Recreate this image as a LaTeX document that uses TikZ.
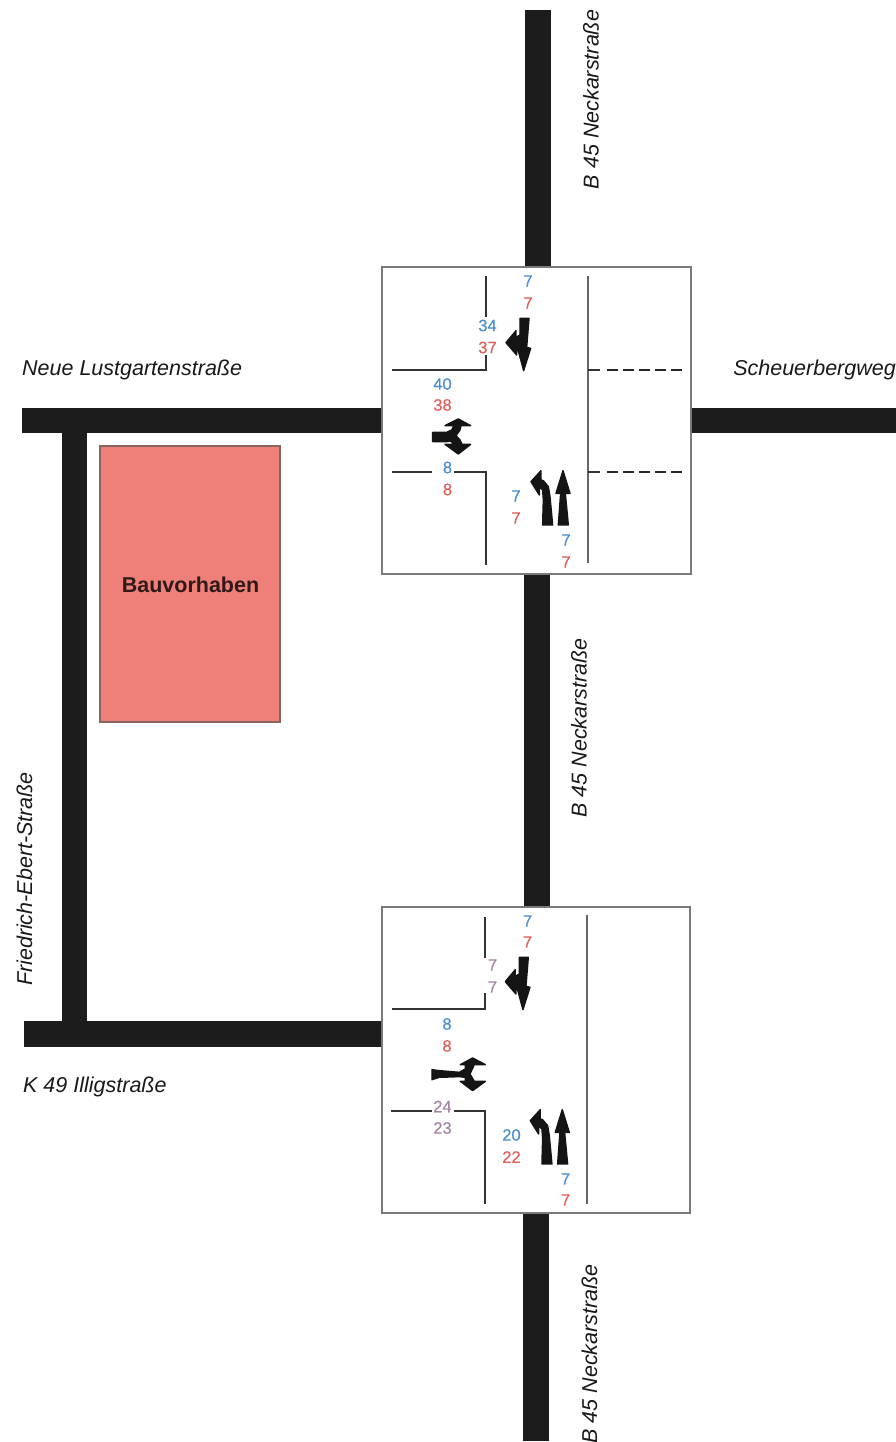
\documentclass[tikz,border=0pt]{standalone}
\usepackage{fontspec}
\setmainfont{Liberation Sans}
\definecolor{nblue}{HTML}{4A90D2}
\definecolor{nred}{HTML}{E2605C}
\definecolor{npurple}{HTML}{A585A5}
\definecolor{road}{HTML}{1C1C1C}
\definecolor{boxline}{HTML}{7A7A7A}
\definecolor{lotfill}{HTML}{EF8079}
\definecolor{lotline}{HTML}{8A6560}
\tikzset{
  x=1pt,y=-1pt,
  roadfill/.style={fill=road,draw=none},
  junction/.style={draw=boxline,line width=2.4pt,fill=white},
  kerb/.style={draw=black!80,line width=2pt},
  centre/.style={draw=black!60,line width=2.4pt},
  dashline/.style={draw=black!85,line width=2pt,dash pattern=on 11pt off 5pt},
  count/.style={font=\fontsize{16.5}{16}\selectfont\addfontfeature{FakeBold=0.4},inner sep=0pt,anchor=center},
  cb/.style={count,text=nblue},
  cr/.style={count,text=nred},
  cp/.style={count,text=npurple},
  street/.style={font=\fontsize{21.5}{22}\selectfont\itshape,text=black!90,inner sep=0pt},
  zoomed/.style={x=0.3333pt,y=-0.3333pt},
  arrowfill/.style={fill=black!92,draw=black!92,line width=1.4pt,line join=round},
  pics/southlanes/.style={code={
    \filldraw[arrowfill] (420,175)--(447,175)--(443,225)--(440,262)--(452,265)--(431,332)--(413,265)--(410,265)--(410,285)--(378,248)--(408,212)--(408,232)--(420,225)--cycle;
  }},
  pics/northlanes/.style={code={
    \filldraw[arrowfill] (535,795)--(565,795)--(556,700)--(570,700)--(549,632)--(528,700)--(542,700)--cycle;
    \filldraw[arrowfill] (488,795)--(518,795)--(510,710)--(505,680)--(490,662)--(483,660)--(483,632)--(453,665)--(478,705)--(478,680)--(488,690)--(490,720)--cycle;
  }},
}
\begin{document}
\begin{tikzpicture}
\useasboundingbox (0,0) rectangle (896,1442);
% roads
\fill[roadfill] (525,10) rectangle (551,268);
\fill[roadfill] (22,408) rectangle (383,433);
\fill[roadfill] (690,408) rectangle (896,433);
\fill[roadfill] (524,573) rectangle (550,908);
\fill[roadfill] (62,420) rectangle (87,1025);
\fill[roadfill] (24,1021) rectangle (383,1047);
\fill[roadfill] (523,1212) rectangle (549,1441);
% building plot
\node[draw=lotline,line width=1.5pt,fill=lotfill,minimum width=180pt,minimum height=276pt,inner sep=0pt] (plot) at (190,584) {};
\node[font=\fontsize{21.5}{22}\selectfont\bfseries,text=black!80!lotfill,inner sep=0pt] (plotlabel) at (190.5,585) {Bauvorhaben};
% junction boxes
\node[junction,minimum width=309pt,minimum height=307pt,inner sep=0pt] (boxA) at (536.5,420.5) {};
\node[junction,minimum width=308pt,minimum height=306pt,inner sep=0pt] (boxB) at (536,1060) {};
% upper junction markings
\draw[kerb] (486,276)--(486,317);
\draw[kerb] (486,355)--(486,369.5)--(392,369.5);
\draw[kerb] (392,471.5)--(432,471.5);
\draw[kerb] (454,471.5)--(485.5,471.5)--(485.5,565);
\draw[centre] (588,276)--(588,563);
\draw[kerb] (588,369.5)--(600,369.5);
\draw[kerb] (588,471.5)--(600,471.5);
\draw[dashline] (607,369.5)--(682,369.5);
\draw[dashline] (607,471.5)--(682,471.5);
% lower junction markings
\draw[kerb] (485,917)--(485,958);
\draw[kerb] (485,993)--(485,1008.5)--(392,1008.5);
\draw[kerb] (391,1110.5)--(432,1110.5);
\draw[kerb] (454,1110.5)--(485,1110.5)--(485,1204);
\draw[centre] (587,915)--(587,1204);
% arrows, drawn in the 3x crop coordinates
\begin{scope}[shift={(380,260)},zoomed]
  \pic {southlanes}; \pic {northlanes};
  \filldraw[arrowfill] (158,517)--(200,517)--(215,510)--(222,497)--(195,497)--(235,477)--(272,497)--(243,497)--(240,510)--(228,527)--(240,540)--(246,553)--(272,553)--(235,582)--(195,553)--(222,553)--(212,543)--(200,545)--(158,545)--cycle;
\end{scope}
\begin{scope}[shift={(379.3,899)},zoomed]
  \pic {southlanes}; \pic {northlanes};
  \filldraw[arrowfill] (158,512)--(180,515)--(240,520)--(258,510)--(258,497)--(243,497)--(280,477)--(318,497)--(285,497)--(272,525)--(285,547)--(318,547)--(280,575)--(243,547)--(258,547)--(258,535)--(240,533)--(180,535)--(158,542)--cycle;
\end{scope}
% upper counts
\node[cb] (a1) at (528,281) {7};
\node[cr] (a2) at (528,303) {7};
\node[cb] (a3) at (487.5,325.5) {34};
\node[cr] (a4) at (487.5,347.5) {37};
\node[cb] (a5) at (442.5,384) {40};
\node[cr] (a6) at (442.5,405) {38};
\node[cb] (a7) at (447.5,467.5) {8};
\node[cr] (a8) at (447.5,489.5) {8};
\node[cb] (a9) at (516,496) {7};
\node[cr] (a10) at (516,518) {7};
\node[cb] (a11) at (566,540) {7};
\node[cr] (a12) at (566,562) {7};
% lower counts
\node[cb] (b1) at (527.5,921) {7};
\node[cr] (b2) at (527.5,942) {7};
\node[cp] (b3) at (492.5,965) {7};
\node[cp] (b4) at (492.5,987) {7};
\node[cb] (b5) at (447,1024) {8};
\node[cr] (b6) at (447,1046) {8};
\node[cp] (b7) at (442.5,1106.5) {24};
\node[cp] (b8) at (442.5,1128) {23};
\node[cb] (b9) at (511.5,1135) {20};
\node[cr] (b10) at (511.5,1157) {22};
\node[cb] (b11) at (565.5,1179) {7};
\node[cr] (b12) at (565.5,1200) {7};
% street names
\node[street,rotate=90] (s1) at (591,99.5) {B 45 Neckarstraße};
\node[street,rotate=90] (s2) at (579,728) {B 45 Neckarstraße};
\node[street,rotate=90] (s3) at (589.5,1354) {B 45 Neckarstraße};
\node[street,rotate=90] (s4) at (24.5,879) {Friedrich-Ebert-Straße};
\node[street,anchor=west] (s5) at (22,369.5) {Neue Lustgartenstraße};
\node[street,anchor=east] (s6) at (896,369.5) {Scheuerbergweg};
\node[street,anchor=west] (s7) at (23,1086.5) {K 49 Illigstraße};
\end{tikzpicture}
\end{document}
